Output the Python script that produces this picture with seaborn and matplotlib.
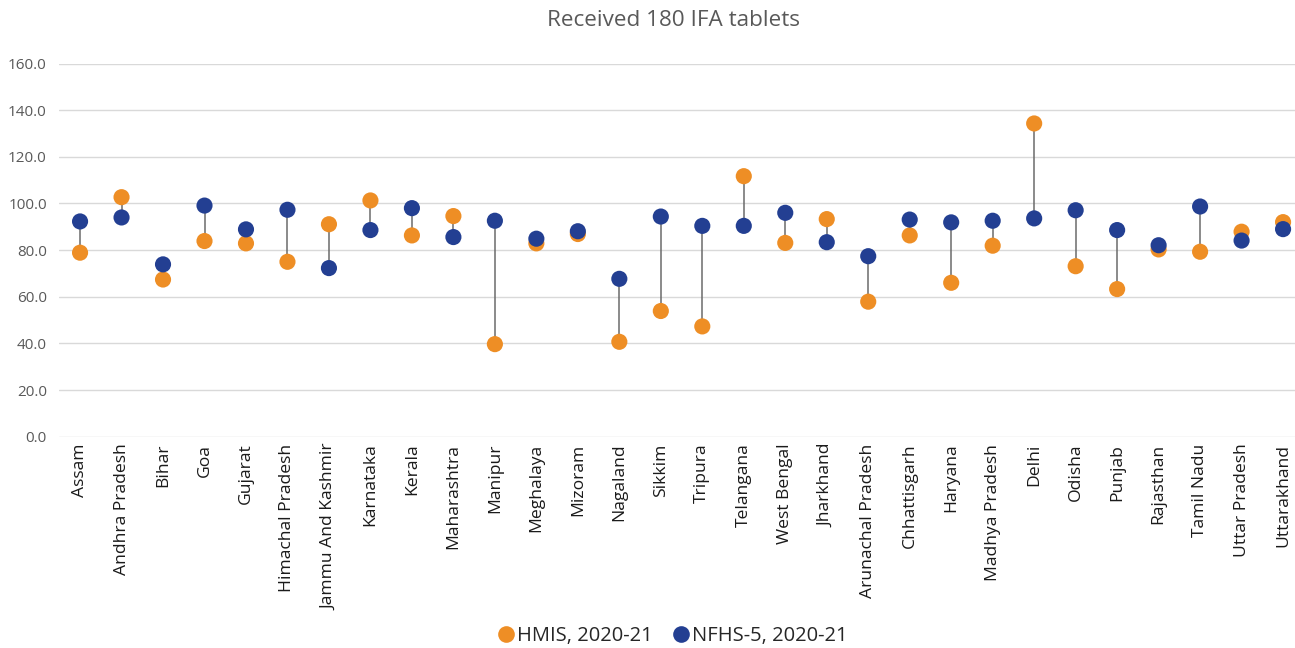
import matplotlib
matplotlib.use("Agg")
import matplotlib.pyplot as plt
from matplotlib.lines import Line2D
import numpy as np
import pandas as pd
import seaborn as sns

states = [
    "Assam", "Andhra Pradesh", "Bihar", "Goa", "Gujarat", "Himachal Pradesh",
    "Jammu And Kashmir", "Karnataka", "Kerala", "Maharashtra", "Manipur",
    "Meghalaya", "Mizoram", "Nagaland", "Sikkim", "Tripura", "Telangana",
    "West Bengal", "Jharkhand", "Arunachal Pradesh", "Chhattisgarh", "Haryana",
    "Madhya Pradesh", "Delhi", "Odisha", "Punjab", "Rajasthan", "Tamil Nadu",
    "Uttar Pradesh", "Uttarakhand",
]
hmis = [78.9, 102.7, 67.4, 83.9, 82.9, 75.0, 91.1, 101.3, 86.3, 94.6, 39.7,
        82.9, 86.9, 40.7, 53.9, 47.3, 111.7, 83.1, 93.3, 57.9, 86.3, 66.0,
        81.9, 134.3, 73.1, 63.3, 80.3, 79.3, 87.9, 92.0]
nfhs = [92.3, 94.0, 73.9, 99.1, 88.9, 97.3, 72.3, 88.6, 98.0, 85.6, 92.6,
        84.9, 88.1, 67.7, 94.4, 90.4, 90.4, 96.0, 83.4, 77.4, 93.1, 91.9,
        92.6, 93.6, 97.1, 88.6, 82.1, 98.7, 84.1, 89.0]
series_names = ["HMIS, 2020-21", "NFHS-5, 2020-21"]
colors = ["#EE8E25", "#233F92"]
y_ticks = [0, 20, 40, 60, 80, 100, 120, 140, 160]

df = pd.DataFrame({
    "State": states * 2,
    "Value": hmis + nfhs,
    "Source": [series_names[0]] * len(states) + [series_names[1]] * len(states),
})

sns.set_theme(style="white")
plt.rcParams["font.family"] = ["Open Sans", "DejaVu Sans"]

fig = plt.figure(figsize=(12.95, 6.48), dpi=100)
ax = fig.add_axes([0.0458, 0.326, 0.961, 0.576])

x = np.arange(len(states))
# dumbbell connectors between the two sources
ax.vlines(x, np.minimum(hmis, nfhs), np.maximum(hmis, nfhs),
          color="#6b6b6b", linewidth=1.1, zorder=2)

sns.scatterplot(data=df, x="State", y="Value", hue="Source",
                palette=dict(zip(series_names, colors)), s=135,
                edgecolor="none", linewidth=0, ax=ax, zorder=3, legend=False)

ax.set_xlim(-0.5, len(states) - 0.5)
ax.set_ylim(0, 160)
ax.set_yticks(y_ticks)
ax.set_yticklabels([f"{v:.1f}" for v in y_ticks], color="#595959", fontsize=11)
ax.set_xticks(x)
ax.set_xticklabels(states, rotation=90, fontsize=12.6, color="#1a1a1a")
ax.tick_params(axis="x", length=0, pad=5)
ax.tick_params(axis="y", length=0, pad=9)
ax.yaxis.grid(True, color="#d9d9d9", linewidth=1)
ax.set_axisbelow(True)
for sp in ax.spines.values():
    sp.set_visible(False)
ax.set_xlabel("")
ax.set_ylabel("")

fig.text(0.52, 0.968, "Received 180 IFA tablets", ha="center", va="center",
         fontsize=16.2, color="#595959")

handles = [Line2D([0], [0], marker="o", linestyle="", markersize=12,
                  markerfacecolor=c, markeredgecolor="none") for c in colors]
fig.legend(handles, series_names, loc="center", bbox_to_anchor=(0.519, 0.019),
           ncol=2, frameon=False, fontsize=14.5, handletextpad=0.05,
           columnspacing=0.9, handlelength=1.0)

fig.savefig("out.png", dpi=100, facecolor="white")
